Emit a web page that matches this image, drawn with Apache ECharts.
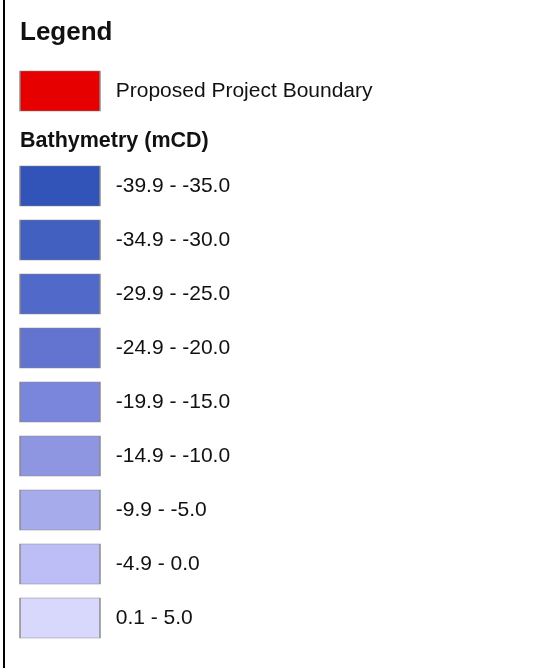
<!DOCTYPE html>
<html>
<head>
<meta charset="utf-8">
<script src="https://cdn.jsdelivr.net/npm/echarts@6/dist/echarts.min.js"></script>
<style>
html,body{margin:0;padding:0;background:#fff;}
#main{width:546px;height:668px;}
</style>
</head>
<body>
<div id="main"></div>
<script>
const boundaryLabels = ['Proposed Project Boundary'];
const boundaryColors = ['#E60000'];
const bathyLabels = ['-39.9 - -35.0','-34.9 - -30.0','-29.9 - -25.0','-24.9 - -20.0','-19.9 - -15.0','-14.9 - -10.0','-9.9 - -5.0','-4.9 - 0.0','0.1 - 5.0'];
const bathyColors = ['#3253B8','#4260C0','#5169C8','#6373D0','#7A86DC','#8E96E2','#A6ABEC','#BDBEF5','#D8D8FD'];
const FONT = '"Liberation Sans", Arial, Helvetica, sans-serif';

const chart = echarts.init(document.getElementById('main'), null, {renderer:'canvas'});

function seriesFor(labels, colors, idx){
  return {
    type:'scatter', xAxisIndex:idx, yAxisIndex:idx,
    symbol:'rect', symbolSize:[80,40], silent:true,
    data: labels.map((l,i)=>({value:[0.5,l], itemStyle:{color:colors[i]}})),
    itemStyle:{borderColor:'#888', borderWidth:1, opacity:1},
    label:{show:true, position:'right', distance:15, formatter:p=>p.value[1],
      fontFamily:FONT, fontSize:21, color:'#111'}
  };
}

chart.setOption({
  animation:false,
  title:[
    {text:'Legend', left:20, top:20, padding:0, textStyle:{fontFamily:FONT, fontSize:26, fontWeight:'bold', color:'#111'}},
    {text:'Bathymetry (mCD)', left:20, top:130, padding:0, textStyle:{fontFamily:FONT, fontSize:21.5, fontWeight:'bold', color:'#111'}}
  ],
  grid:[
    {left:20, top:71, width:80, height:40},
    {left:20, top:159, width:80, height:486}
  ],
  xAxis:[
    {gridIndex:0, type:'value', min:0, max:1, show:false},
    {gridIndex:1, type:'value', min:0, max:1, show:false}
  ],
  yAxis:[
    {gridIndex:0, type:'category', data:boundaryLabels, inverse:true, show:false},
    {gridIndex:1, type:'category', data:bathyLabels, inverse:true, show:false}
  ],
  series:[seriesFor(boundaryLabels, boundaryColors, 0), seriesFor(bathyLabels, bathyColors, 1)],
  graphic:[
    {type:'line', shape:{x1:4, y1:0, x2:4, y2:668}, style:{stroke:'#000', lineWidth:2}}
  ]
});
</script>
</body>
</html>
